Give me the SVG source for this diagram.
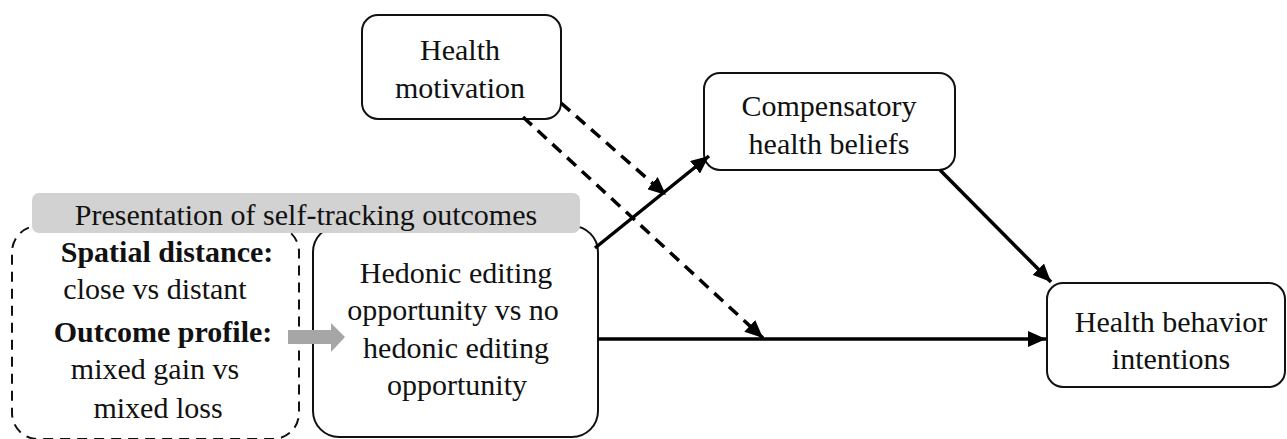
<svg xmlns="http://www.w3.org/2000/svg" width="1287" height="439" viewBox="0 0 1287 439">
<style>
text{font-family:"Liberation Serif","Times New Roman",serif;font-size:30px;fill:#111;text-anchor:middle}
.b{font-weight:bold}
.box{fill:#fff;stroke:#111;stroke-width:2}
.dbox{fill:#fff;stroke:#111;stroke-width:2;stroke-dasharray:10 7}
.c{fill:none;stroke:#000;stroke-width:3.5}
.d{fill:none;stroke:#000;stroke-width:3.5;stroke-dasharray:12 8}
</style>
<defs>
<marker id="ah" markerUnits="userSpaceOnUse" markerWidth="20" markerHeight="16" refX="18" refY="8" orient="auto">
<path d="M0,0 L18,8 L0,16 Z" fill="#000"/>
</marker>
</defs>
<rect width="1287" height="439" fill="#fff"/>
<g id="manipulation">
<rect class="dbox" x="12" y="226" width="287" height="213" rx="26"/>
<text class="b" x="167" y="262">Spatial distance:</text>
<text x="155" y="299">close vs distant</text>
<text class="b" x="163" y="342">Outcome profile:</text>
<text x="155" y="379">mixed gain vs</text>
<text x="158" y="418">mixed loss</text>
</g>
<g id="hedonic">
<rect class="box" x="313" y="226" width="285" height="211" rx="26"/>
<text x="456" y="283">Hedonic editing</text>
<text x="453" y="320">opportunity vs no</text>
<text x="456" y="358">hedonic editing</text>
<text x="457" y="395">opportunity</text>
</g>
<g id="banner">
<rect x="32" y="193" width="548" height="40" rx="7" fill="#d2d2d2"/>
<text x="306" y="225">Presentation of self-tracking outcomes</text>
</g>
<g id="gray-arrow">
<path d="M288,330 L331,330 L331,323 L345,337 L331,352 L331,344 L288,344 Z" fill="#a6a6a6"/>
</g>
<g id="motivation">
<rect class="box" x="362" y="15" width="199" height="104" rx="16"/>
<text x="460" y="60">Health</text>
<text x="460" y="98">motivation</text>
</g>
<g id="beliefs">
<rect class="box" x="704" y="73" width="251" height="97" rx="16"/>
<text x="829" y="116">Compensatory</text>
<text x="829" y="154">health beliefs</text>
</g>
<g id="intentions">
<rect class="box" x="1047" y="283" width="238" height="104" rx="16"/>
<text x="1171" y="332">Health behavior</text>
<text x="1171" y="369">intentions</text>
</g>
<g id="connectors">
<line class="c" x1="595" y1="248" x2="709" y2="156" marker-end="url(#ah)"/>
<line class="c" x1="598" y1="339" x2="1046" y2="339" marker-end="url(#ah)"/>
<line class="c" x1="940" y1="170" x2="1051" y2="282" marker-end="url(#ah)"/>
<line class="d" x1="561" y1="103" x2="666" y2="195" marker-end="url(#ah)"/>
<line class="d" x1="523" y1="117" x2="763" y2="338" marker-end="url(#ah)"/>
</g>
</svg>
